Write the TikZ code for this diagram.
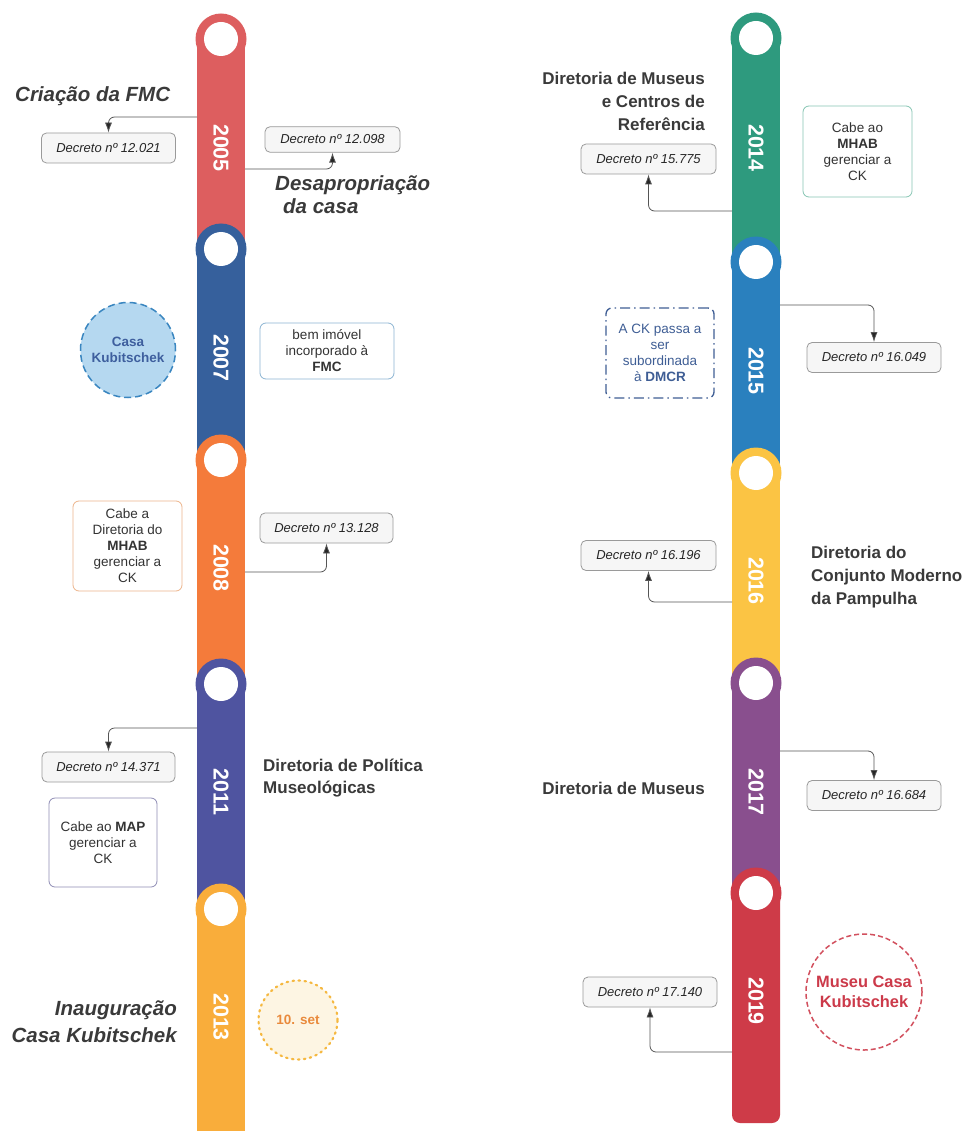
\documentclass[tikz,border=0pt]{standalone}
\usepackage{fontspec}
\setmainfont{Liberation Sans}
\usetikzlibrary{arrows.meta}
\definecolor{c05}{HTML}{DD5E5F}
\definecolor{c07}{HTML}{36609C}
\definecolor{c08}{HTML}{F47B3B}
\definecolor{c11}{HTML}{4F54A0}
\definecolor{c13}{HTML}{F9AD3B}
\definecolor{c14}{HTML}{2E9A7E}
\definecolor{c15}{HTML}{2A80BE}
\definecolor{c16}{HTML}{FBC444}
\definecolor{c17}{HTML}{894F8E}
\definecolor{c19}{HTML}{CE3B48}
\definecolor{headc}{HTML}{3A3A3A}
\definecolor{txtc}{HTML}{333333}
\definecolor{decfill}{HTML}{F6F6F6}
\definecolor{decdraw}{HTML}{9A9A9A}
\definecolor{connc}{HTML}{555555}
\definecolor{ckfill}{HTML}{B5D8F0}
\definecolor{ckdraw}{HTML}{3A86C0}
\definecolor{cktext}{HTML}{3E5F9E}
\definecolor{b07draw}{HTML}{8CB4D2}
\definecolor{b08draw}{HTML}{EDB58C}
\definecolor{b11draw}{HTML}{8E8CB4}
\definecolor{b14draw}{HTML}{86C5B3}
\definecolor{b15draw}{HTML}{3F5E95}
\definecolor{setfill}{HTML}{FDF5E3}
\definecolor{setdraw}{HTML}{F5B840}
\definecolor{settext}{HTML}{E98A3C}
\definecolor{mckdraw}{HTML}{D2505E}
\definecolor{mcktext}{HTML}{CC3A4A}
\newcommand\tlseg[4]{%
  \fill[#4] ({#1-24},#2) rectangle ({#1+24},#3);
  \fill[#4] (#1,#2) circle (25.5pt);
  \fill[white] (#1,#2) circle (17pt);}
\begin{document}
\begin{tikzpicture}[x=1pt,y=-1pt,
  decbox/.style={draw=decdraw, fill=decfill, line width=0.8pt, rounded corners=5pt,
    minimum width=134pt, minimum height=30pt, inner sep=0pt, text=black!85,
    font=\itshape\fontsize{13}{15}\selectfont},
  infobox/.style={fill=white, line width=0.8pt, rounded corners=6pt, align=center,
    inner sep=0pt, text=txtc, font=\fontsize{13.5}{16}\selectfont},
  headb/.style={text=headc, inner sep=0pt, font=\bfseries\fontsize{17}{23}\selectfont},
  headbi/.style={text=headc, inner sep=0pt, font=\bfseries\itshape\fontsize{20.5}{23}\selectfont},
  yearlbl/.style={text=white, rotate=-90, inner sep=0pt, font=\bfseries\fontsize{21.5}{21}\selectfont},
  conn/.style={draw=connc, line width=0.8pt, rounded corners=6pt,
    -{Latex[length=10pt,width=7pt,fill=black!85]}}]
\useasboundingbox (0,0) rectangle (965,1131);
\fill[white] (0,0) rectangle (965,1131);
% ---------- left timeline
\tlseg{221}{39}{249}{c05}
\tlseg{221}{249}{460}{c07}
\tlseg{221}{460}{684}{c08}
\tlseg{221}{684}{909}{c11}
\tlseg{221}{909}{1131}{c13}
% ---------- right timeline
\tlseg{756}{38}{262}{c14}
\tlseg{756}{262}{473}{c15}
\tlseg{756}{473}{683}{c16}
\tlseg{756}{683}{893}{c17}
\fill[c19, rounded corners=8pt] (732,893) rectangle (780,1123);
\fill[c19] (756,893) circle (25.5pt);
\fill[white] (756,893) circle (17pt);
% ---------- year labels
\node[yearlbl] (y05) at (221,148) {2005};
\node[yearlbl] (y07) at (221,358) {2007};
\node[yearlbl] (y08) at (221,568) {2008};
\node[yearlbl] (y11) at (221,792) {2011};
\node[yearlbl] (y13) at (221,1017) {2013};
\node[yearlbl] (y14) at (756,148) {2014};
\node[yearlbl] (y15) at (756,371) {2015};
\node[yearlbl] (y16) at (756,581) {2016};
\node[yearlbl] (y17) at (756,792) {2017};
\node[yearlbl] (y19) at (756,1001) {2019};
% ---------- connector start points on the bars
\coordinate (a05L) at (197,117);
\coordinate (a05R) at (245,169);
\coordinate (a08R) at (245,572);
\coordinate (a11L) at (197,728);
\coordinate (a14L) at (732,211);
\coordinate (a15R) at (780,305);
\coordinate (a16L) at (732,602);
\coordinate (a17R) at (780,751);
\coordinate (a19L) at (732,1052);
% ---------- 2005
\node[headbi, anchor=base west] (crea) at (15,102) {Criação da FMC};
\node[decbox] (d05a) at (108.5,148) {Decreto nº 12.021};
\node[decbox, minimum height=25.5pt, minimum width=135pt] (d05b) at (332.5,139.5) {Decreto nº 12.098};
\node[headbi, align=left, anchor=west] (desap) at (275,195) {Desapropriação\\\hspace*{8pt}da casa};
\draw[conn] (a05L) -| (d05a.north);
\draw[conn] (a05R) -| (d05b.south);
% ---------- 2007
\node[circle, minimum size=95pt, inner sep=0pt, fill=ckfill, draw=ckdraw,
  line width=1.5pt, dash pattern=on 7pt off 4pt, align=center, text=cktext,
  font=\bfseries\fontsize{13.5}{16}\selectfont] (ck07) at (128,350) {Casa\\Kubitschek};
\node[infobox, draw=b07draw, minimum width=134pt, minimum height=56pt] (b07) at (327,351)
  {bem imóvel\\incorporado à\\\textbf{FMC}};
% ---------- 2008
\node[infobox, draw=b08draw, minimum width=109pt, minimum height=90pt] (b08) at (127.5,546)
  {Cabe a\\Diretoria do\\\textbf{MHAB}\\gerenciar a\\CK};
\node[decbox, minimum width=133pt] (d08) at (326.5,528) {Decreto nº 13.128};
\draw[conn] (a08R) -| (d08.south);
% ---------- 2011
\node[decbox, minimum width=133pt] (d11) at (108.5,767) {Decreto nº 14.371};
\draw[conn] (a11L) -| (d11.north);
\node[infobox, draw=b11draw, minimum width=108pt, minimum height=89pt] (b11) at (103,842.5)
  {Cabe ao \textbf{MAP}\\gerenciar a\\CK};
\node[headb, align=left, anchor=west, font=\bfseries\fontsize{17}{22}\selectfont] (h11) at (263,778)
  {Diretoria de Política\\Museológicas};
% ---------- 2013
\node[headbi, align=right, anchor=east, font=\bfseries\itshape\fontsize{20.5}{27}\selectfont] (inaug) at (177,1022)
  {Inauguração\\Casa Kubitschek};
\node[circle, minimum size=79pt, inner sep=0pt, fill=setfill, draw=setdraw,
  line width=2.2pt, line cap=round, dash pattern=on 1.5pt off 4.5pt, text=settext,
  font=\bfseries\fontsize{13.5}{16}\selectfont] (set13) at (298,1020) {10. set};
% ---------- 2014
\node[headb, align=right, anchor=east] (h14) at (705,101)
  {Diretoria de Museus\\e Centros de\\Referência};
\node[decbox, minimum width=135pt] (d14) at (648.5,159) {Decreto nº 15.775};
\draw[conn] (a14L) -| (d14.south);
\node[infobox, draw=b14draw, minimum width=109pt, minimum height=91pt] (b14) at (857.5,151.5)
  {Cabe ao\\\textbf{MHAB}\\gerenciar a\\CK};
% ---------- 2015
\node[infobox, draw=b15draw, text=b15draw, line width=1.3pt,
  dash pattern=on 10pt off 4pt on 1.5pt off 4pt, minimum width=108pt, minimum height=90pt] (b15) at (660,353)
  {A CK passa a\\ser\\subordinada\\à \textbf{DMCR}};
\node[decbox] (d15) at (874,357.5) {Decreto nº 16.049};
\draw[conn] (a15R) -| (d15.north);
% ---------- 2016
\node[decbox, minimum width=135pt] (d16) at (648.5,555.5) {Decreto nº 16.196};
\draw[conn] (a16L) -| (d16.south);
\node[headb, align=left, anchor=west] (h16) at (811,577.5)
  {Diretoria do\\Conjunto Moderno\\da Pampulha};
% ---------- 2017
\node[headb, anchor=base east] (h17) at (705,794) {Diretoria de Museus};
\node[decbox] (d17) at (874,795.5) {Decreto nº 16.684};
\draw[conn] (a17R) -| (d17.north);
% ---------- 2019
\node[decbox] (d19) at (650,992) {Decreto nº 17.140};
\draw[conn] (a19L) -| (d19.south);
\node[circle, minimum size=116pt, inner sep=0pt, fill=white, draw=mckdraw,
  line width=1.5pt, dash pattern=on 5pt off 3pt, align=center, text=mcktext,
  font=\bfseries\fontsize{16.4}{20}\selectfont] (mck) at (864,992) {Museu Casa\\Kubitschek};
\end{tikzpicture}
\end{document}
